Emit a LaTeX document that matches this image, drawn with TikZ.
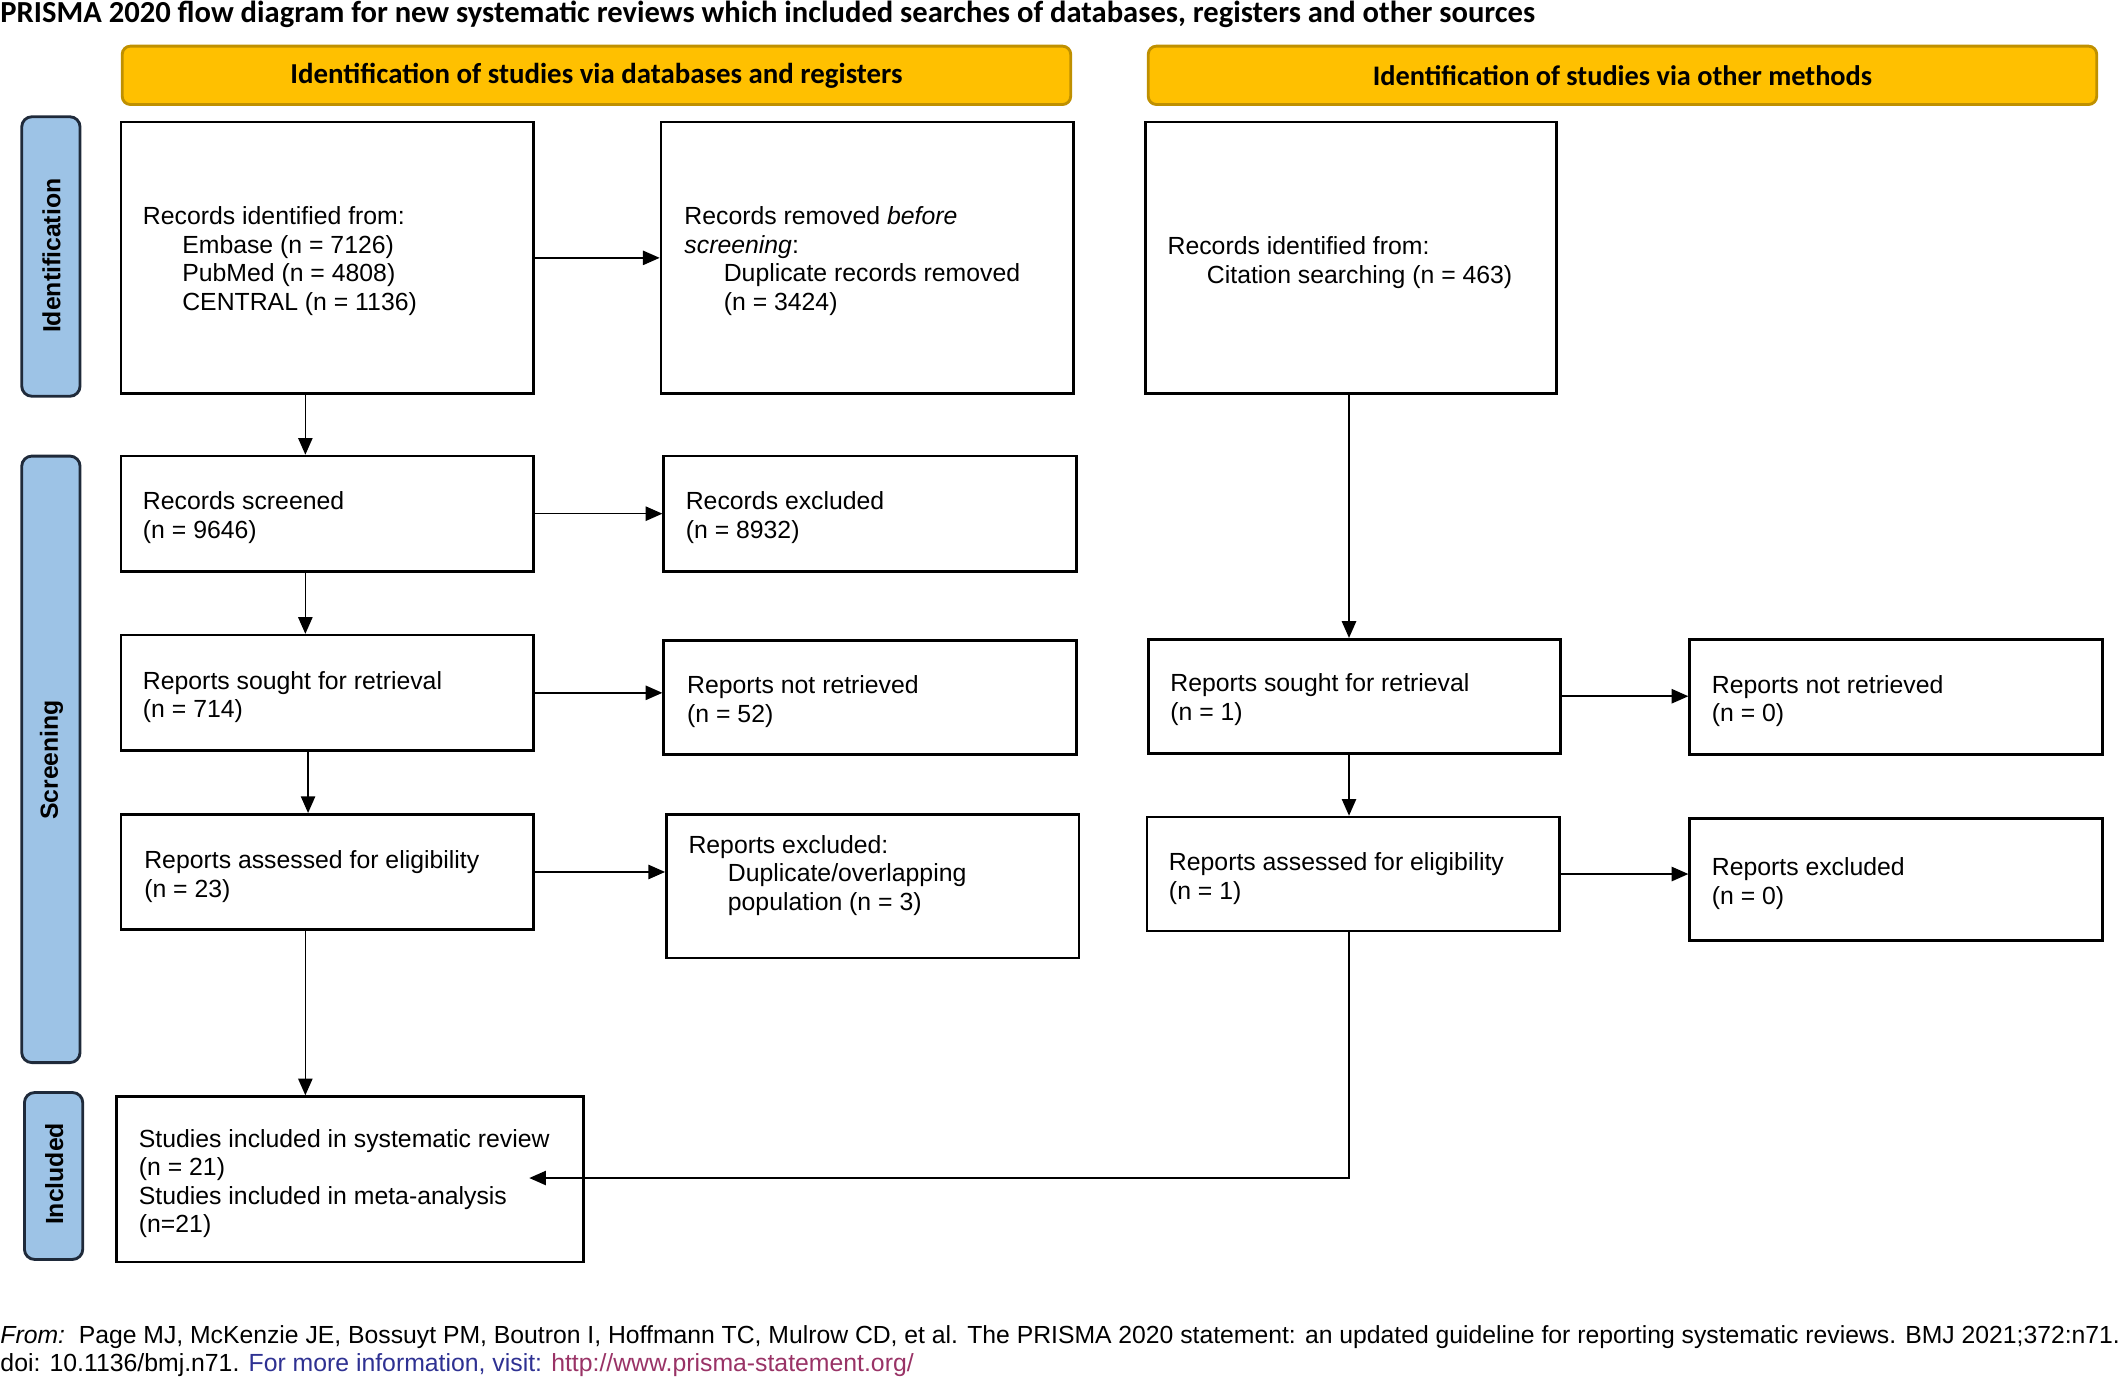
\documentclass[tikz,border=0pt]{standalone}
\usepackage{fontspec}
\setmainfont{Liberation Sans}
\newfontfamily\calib{Carlito}
\usetikzlibrary{arrows.meta,calc}
\definecolor{hdrfill}{HTML}{FFC000}
\definecolor{hdrdraw}{HTML}{BF9000}
\definecolor{sidefill}{HTML}{9DC3E6}
\definecolor{sidedraw}{HTML}{1F2A3A}
\definecolor{infoblue}{HTML}{2E3192}
\definecolor{linkpink}{HTML}{993366}
\newcommand\myind{\hspace*{0.58cm}}
\begin{document}
\begin{tikzpicture}[x=0.02cm,y=-0.02cm,
 box/.style={draw=black,line width=1.1pt,rectangle,inner sep=0pt,fill=white},
 txt/.style={anchor=west,align=left,inner sep=0pt,yshift=-3*0.02cm,font=\fontsize{10.4}{11.95}\selectfont},
 hdr/.style={draw=hdrdraw,fill=hdrfill,line width=1.2pt,rounded corners=0.12cm,minimum width=13.98cm,minimum height=0.86cm,inner sep=0pt},
 hdrtxt/.style={inner sep=0pt,font=\calib\bfseries},
 side/.style={draw=sidedraw,fill=sidefill,line width=1.2pt,rounded corners=0.15cm,minimum width=0.86cm,inner sep=0pt},
 sidetxt/.style={rotate=90,font=\bfseries\fontsize{10.4}{12}\selectfont,inner sep=0pt},
 arr/.style={line width=0.65pt,-{Triangle[length=7pt,width=6pt]}}]

\useasboundingbox (0,0) rectangle (1568,1015);

% title
\node[anchor=base west,inner sep=0pt,font=\calib\bfseries] (title) at (0,16.5)
 {\resizebox{22.62cm}{!}{PRISMA 2020 flow diagram for new systematic reviews which included searches of databases, registers and other sources}};

% headers
\node[hdr] (h1) at (439.5,55.5) {};
\node[hdrtxt] (h1t) at (h1.center) {\resizebox{9.02cm}{!}{Identification of studies via databases and registers}};
\node[hdr] (h2) at (1195.5,55.5) {};
\node[hdrtxt] (h2t) at (h2.center) {\resizebox{7.36cm}{!}{Identification of studies via other methods}};

% side bars
\node[side,minimum height=4.12cm] (sid) at (37.5,189) {};
\node[sidetxt] (sidt) at (38,188.5) {Identification};
\node[side,minimum height=8.94cm] (ssc) at (37.5,559.5) {};
\node[sidetxt] (ssct) at (38,560) {Screening};
\node[side,minimum height=2.46cm] (sin) at (39.5,866.5) {};
\node[sidetxt] (sint) at (40,865) {Included};

% boxes
\node[box,minimum width=6.08cm,minimum height=4.0cm] (A) at (241,190) {};
\node[box,minimum width=6.08cm,minimum height=4.0cm] (B) at (639,190) {};
\node[box,minimum width=6.06cm,minimum height=4.0cm] (C) at (995.5,190) {};
\node[box,minimum width=6.08cm,minimum height=1.70cm] (S) at (241,378.5) {};
\node[box,minimum width=6.08cm,minimum height=1.70cm] (E) at (641,378.5) {};
\node[box,minimum width=6.08cm,minimum height=1.70cm] (R) at (241,510.5) {};
\node[box,minimum width=6.08cm,minimum height=1.68cm] (N) at (641,514) {};
\node[box,minimum width=6.08cm,minimum height=1.70cm] (AS) at (241,642.5) {};
\node[box,minimum width=6.08cm,minimum height=2.12cm] (X) at (643,653) {};
\node[box,minimum width=6.08cm,minimum height=1.68cm] (OR) at (998,513) {};
\node[box,minimum width=6.08cm,minimum height=1.70cm] (ON) at (1397,513.5) {};
\node[box,minimum width=6.08cm,minimum height=1.68cm] (OA) at (997,644) {};
\node[box,minimum width=6.08cm,minimum height=1.80cm] (OX) at (1397,648) {};
\node[box,minimum width=6.88cm,minimum height=2.44cm] (I) at (258,869) {};

% texts
\node[txt] (tA) at (105,189.5) {Records identified from:\\\myind Embase (n = 7126)\\\myind PubMed (n = 4808)\\\myind CENTRAL (n = 1136)};
\node[txt] (tB) at (504,189.5) {Records removed \textit{before}\\\textit{screening}:\\\myind Duplicate records removed\\\myind (n = 3424)};
\node[txt] (tC) at (860,190.5) {Records identified from:\\\myind Citation searching (n = 463)};
\node[txt] (tS) at (105,378.5) {Records screened\\(n = 9646)};
\node[txt] (tE) at (505,378.5) {Records excluded\\(n = 8932)};
\node[txt] (tR) at (105,510.5) {Reports sought for retrieval\\(n = 714)};
\node[txt] (tN) at (506,514) {Reports not retrieved\\(n = 52)};
\node[txt] (tAS) at (106,643) {Reports assessed for eligibility\\(n = 23)};
\node[txt] (tX) at (507,642) {Reports excluded:\\\myind Duplicate/overlapping\\\myind population (n = 3)};
\node[txt] (tOR) at (862,512.5) {Reports sought for retrieval\\(n = 1)};
\node[txt] (tON) at (1261,513.5) {Reports not retrieved\\(n = 0)};
\node[txt] (tOA) at (861,644.5) {Reports assessed for eligibility\\(n = 1)};
\node[txt] (tOX) at (1261,648) {Reports excluded\\(n = 0)};
\node[txt] (tI) at (102,869) {Studies included in systematic review\\(n = 21)\\Studies included in meta-analysis\\(n=21)};

% connector helpers
\coordinate (cL) at (225,0);
\coordinate (cL2) at (227,0);
\coordinate (cR) at (994,0);
\coordinate (inTip) at (390,868);

\draw[arr] (A.east) -- (A.east -| B.west);
\draw[arr] (A.south -| cL) -- (S.north -| cL);
\draw[arr] (S.east) -- (S.east -| E.west);
\draw[arr] (S.south -| cL) -- (R.north -| cL);
\draw[arr] (R.east) -- (R.east -| N.west);
\draw[arr] (R.south -| cL2) -- (AS.north -| cL2);
\draw[arr] (AS.east) -- (AS.east -| X.west);
\draw[arr] (AS.south -| cL) -- (I.north -| cL);
\draw[arr] (C.south -| cR) -- (OR.north -| cR);
\draw[arr] (OR.east) -- (OR.east -| ON.west);
\draw[arr] (OR.south -| cR) -- (OA.north -| cR);
\draw[arr] (OA.east) -- (OA.east -| OX.west);
\draw[arr] (OA.south -| cR) |- (inTip);

% footer
\node[anchor=base west,inner sep=0pt] (f1) at (0,989.7)
 {\resizebox{31.24cm}{!}{\textit{From:}\ \ Page MJ, McKenzie JE, Bossuyt PM, Boutron I, Hoffmann TC, Mulrow CD, et al. The PRISMA 2020 statement: an updated guideline for reporting systematic reviews. BMJ 2021;372:n71.}};
\node[anchor=base west,inner sep=0pt] (f2) at (0,1010.8)
 {\resizebox{13.46cm}{!}{doi: 10.1136/bmj.n71. \textcolor{infoblue}{For more information, visit:} \textcolor{linkpink}{\underline{http://www.prisma-statement.org/}}}};
\end{tikzpicture}
\end{document}
